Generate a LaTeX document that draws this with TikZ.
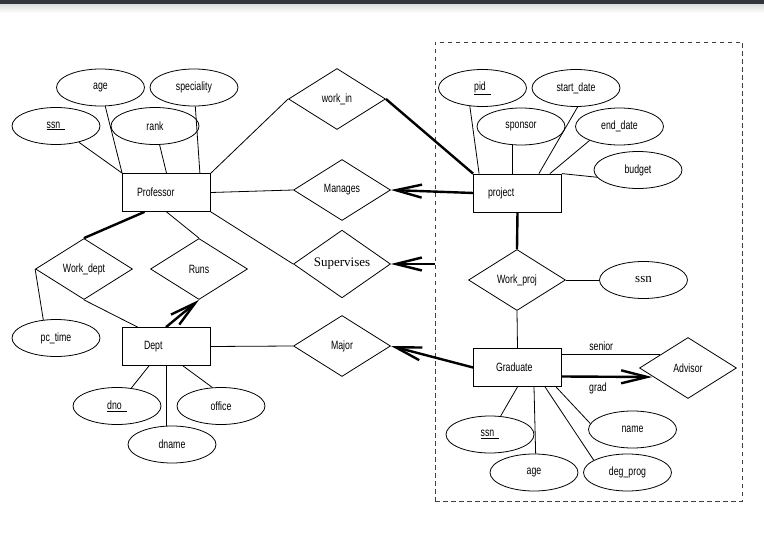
\documentclass[tikz,border=0pt]{standalone}
\usepackage{fontspec}
\setmainfont{Liberation Sans}[FakeStretch=0.73]
\newfontfamily\serifname{Liberation Serif}
\usetikzlibrary{shapes.geometric,arrows.meta,positioning}
\definecolor{barcol}{RGB}{50,54,58}
\tikzstyle{entity} = [rectangle, draw, minimum width=88pt, minimum height=38pt,
                      inner sep=0pt, line width=0.8pt, text width=59pt, align=left]
\tikzstyle{attr}   = [ellipse, draw, minimum width=88pt, minimum height=37pt,
                      inner sep=0pt, line width=0.8pt]
\tikzstyle{rel}    = [diamond, draw, minimum width=97pt, minimum height=61pt,
                      inner sep=0pt, line width=0.8pt]
\tikzstyle{link}   = [draw, line width=0.8pt]
\tikzstyle{heavy}  = [draw, line width=2.4pt]
\tikzstyle{ptr}    = [draw, line width=2.4pt, -{Straight Barb[length=26pt,width=13pt]}]
\tikzstyle{group}  = [draw=black!75, line width=0.9pt, dash pattern=on 4.5pt off 3.5pt,
                      minimum width=307pt, minimum height=459pt, inner sep=0pt]
\newcommand{\pkey}[1]{\underline{#1\hspace{5pt}}}

\begin{document}
\begin{tikzpicture}[x=1pt, y=-1pt, font=\fontsize{12}{14}\selectfont]
	\useasboundingbox (0,0) rectangle (764,540);
	\fill[barcol] (0,0) rectangle (764,5);
	\shade[top color=black!12, bottom color=white] (0,5) rectangle (764,13);

	\node[group] (grp) at (588.5,271.5) {};

	% entities
	\node[entity] (prof) at (166.5,192.5) {Professor};
	\node[entity, text width=44pt] (dept) at (166,346.5) {Dept};
	\node[entity] (project) at (517.5,193) {project};
	\node[entity, text width=43pt] (graduate) at (517.5,367.5) {Graduate};

	% relationships
	\node[rel] (workin) at (337,99) {work\_in};
	\node[rel] (manages) at (342,190) {Manages};
	\node[rel] (supervises) at (342,264) {\serifname\fontsize{13}{15}\selectfont Supervises};
	\node[rel] (workdept) at (84,269) {Work\_dept};
	\node[rel] (runs) at (199,269) {Runs};
	\node[rel] (major) at (342,346) {Major};
	\node[rel] (workproj) at (517,280) {Work\_proj};
	\node[rel] (advisor) at (688,368) {Advisor};

	% attributes
	\node[attr] (pssn) at (56,126) {\pkey{ssn}};
	\node[attr] (page) at (100.5,87.5) {age};
	\node[attr] (prank) at (155,126) {rank};
	\node[attr] (pspec) at (194,87.5) {speciality};
	\node[attr] (pid) at (482.5,88) {\pkey{pid}};
	\node[attr] (pstart) at (576,88) {start\_date};
	\node[attr] (psponsor) at (521,126.5) {sponsor};
	\node[attr] (pend) at (619.5,126.5) {end\_date};
	\node[attr] (pbudget) at (638,170) {budget};
	\node[attr] (wssn) at (643.5,280) {\serifname\fontsize{13}{15}\selectfont ssn};
	\node[attr] (gssn) at (490,434.5) {\pkey{ssn}};
	\node[attr] (gage) at (534,472.5) {age};
	\node[attr] (gname) at (632.5,429.5) {name};
	\node[attr] (gdeg) at (627.5,472.5) {deg\_prog};
	\node[attr] (pctime) at (56,338) {pc\_time};
	\node[attr] (dno) at (117,406) {\pkey{dno}};
	\node[attr] (doffice) at (221,406) {office};
	\node[attr] (dname) at (172,444.5) {dname};

	% professor
	\path[link] (pssn) -- (prof.north west);
	\path[link] (page) -- (prof.north west);
	\path[link] (prank) -- (prof.north);
	\path[link] (pspec) -- ([xshift=-11pt]prof.north east);
	\path[link] (prof.north east) -- (workin.west);
	\path[link] (prof.east) -- (manages.west);
	\path[link] (prof.south east) -- (supervises.west);
	\path[link] (prof.south) -- (runs.north);
	\path[heavy] ([xshift=-22pt]prof.south) -- (workdept.north);

	% dept
	\path[link] (workdept.south) -- ([xshift=16pt]dept.north west);
	\path[link] (workdept.west) -- (pctime.125);
	\draw[ptr] (dept.north) -- (runs.south);
	\path[link] (dept.east) -- (major.west);
	\path[link] ([xshift=-17pt]dept.south) -- (dno);
	\path[link] (dept.south) -- (dept.south |- dname.north);
	\path[link] ([xshift=17pt]dept.south) -- (doffice.115);

	% project
	\path[link] (pid.235) -- ([xshift=6pt]project.north west);
	\path[link] (psponsor.245) -- (psponsor.245 |- project.north);
	\path[link] (pstart.275) -- ([xshift=-23pt]project.north east);
	\path[link] (pend.205) -- ([xshift=-12pt]project.north east);
	\path[link] (pbudget.190) -- (project.north east);
	\path[heavy] (workin.east) -- (project.north west);
	\draw[ptr] (project.west) -- (manages.east);
	\draw[ptr] (grp.west |- supervises.east) -- (supervises.east);
	\path[heavy] (project.south) -- (workproj.north);
	\path[link] (workproj.east) -- (wssn.west);
	\path[link] (workproj.south) -- (graduate.north);

	% graduate
	\draw[ptr] (graduate.west) -- (major.east);
	\path[link] ([yshift=13.5pt]graduate.east) -- node[above, pos=0.4] {senior}
		([xshift=21pt,yshift=14pt]advisor.west);
	\draw[ptr] ([yshift=-9pt]graduate.east) -- node[below, pos=0.4, yshift=-2pt] {grad}
		([xshift=13pt,yshift=-9pt]advisor.west);
	\path[link] (graduate.south) -- (gssn.60);
	\path[link] ([xshift=16.5pt]graduate.south) -- (gage.85);
	\path[link] ([xshift=27.5pt]graduate.south) -- (gdeg.160);
	\path[link] ([xshift=38.5pt]graduate.south) -- (gname.172);
\end{tikzpicture}
\end{document}
